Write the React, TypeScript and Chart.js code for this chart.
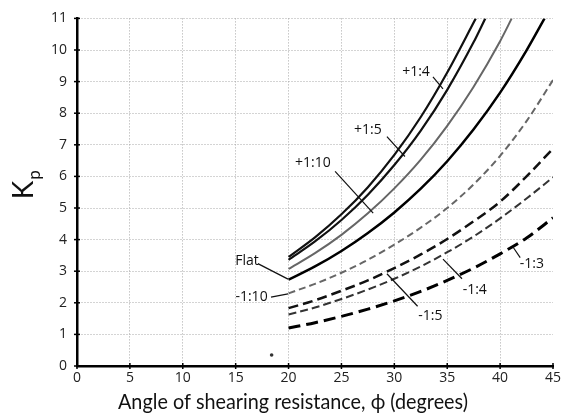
import React, { useEffect, useRef } from "react";
import { Chart, registerables } from "chart.js";

Chart.register(...registerables);

// ---- data ----
const PHI_FULL = [20, 22.5, 25, 27.5, 30, 32.5, 35, 37.5, 40, 42.5, 45];

const UP14_PHI = [20, 22.5, 25, 27.5, 30, 32.5, 35, 37.7];
const UP14_K = [3.45, 4.07, 4.8, 5.66, 6.68, 7.88, 9.29, 11];

const UP15_PHI = [20, 22.5, 25, 27.5, 30, 32.5, 35, 37.5, 38.6];
const UP15_K = [3.36, 3.94, 4.62, 5.42, 6.36, 7.45, 8.74, 10.25, 11];

const UP110_PHI = [20, 22.5, 25, 27.5, 30, 32.5, 35, 37.5, 40, 41.1];
const UP110_K = [3.07, 3.57, 4.15, 4.83, 5.62, 6.53, 7.6, 8.84, 10.28, 11];

const FLAT_PHI = [20, 22.5, 25, 27.5, 30, 32.5, 35, 37.5, 40, 42.5, 44.2];
const FLAT_K = [2.73, 3.15, 3.64, 4.21, 4.86, 5.61, 6.48, 7.49, 8.65, 9.99, 11];

const DN110_K = [2.3, 2.6, 2.95, 3.36, 3.84, 4.38, 5.0, 5.75, 6.65, 7.75, 9.05];
const DN15_K = [1.83, 2.08, 2.38, 2.71, 3.1, 3.53, 4.02, 4.58, 5.2, 6.0, 6.88];
const DN14_K = [1.63, 1.85, 2.12, 2.42, 2.76, 3.15, 3.6, 4.1, 4.67, 5.3, 5.97];
const DN13_K = [1.2, 1.37, 1.57, 1.8, 2.06, 2.36, 2.71, 3.1, 3.55, 4.05, 4.69];

const SPECK_PHI = [18.4];
const SPECK_K = [0.35];

const X_TICKS = [0, 5, 10, 15, 20, 25, 30, 35, 40, 45];
const Y_TICKS = [0, 1, 2, 3, 4, 5, 6, 7, 8, 9, 10, 11];

const X_TITLE = "Angle of shearing resistance, \u03d5 (degrees)";
const Y_TITLE = "K";
const Y_TITLE_SUB = "p";

// curve labels: text anchor and leader line in data coordinates
const LABELS = [
  { text: "+1:4", at: [32.05, 9.3], from: [33.65, 9.15], to: [34.6, 8.77] },
  { text: "+1:5", at: [27.5, 7.48], from: [29.3, 7.26], to: [31.0, 6.63] },
  { text: "+1:10", at: [22.3, 6.41], from: [24.4, 6.16], to: [28.0, 4.84] },
  { text: "Flat", at: [16.07, 3.33], from: [17.1, 3.24], to: [19.95, 2.75] },
  { text: "-1:10", at: [16.5, 2.17], from: [18.34, 2.18], to: [19.95, 2.28] },
  { text: "-1:5", at: [33.4, 1.57], from: [32.2, 1.89], to: [29.3, 2.92] },
  { text: "-1:4", at: [37.6, 2.39], from: [36.4, 2.76], to: [34.6, 3.38] },
  { text: "-1:3", at: [43.0, 3.24], from: [41.9, 3.43], to: [41.25, 3.75] },
];

const FONT = "'Open Sans', 'DejaVu Sans', sans-serif";
const TITLE_FONT = "Lato, 'Open Sans', sans-serif";

function pts(xs: number[], ys: number[]) {
  return xs.map((x, i) => ({ x, y: ys[i] }));
}

const overlay = {
  id: "overlay",
  afterDatasetsDraw(chart: any) {
    const { ctx, chartArea, scales } = chart;
    const xs = scales.x;
    const ys = scales.y;
    ctx.save();
    // tick crosses on axes
    ctx.strokeStyle = "#000";
    ctx.lineWidth = 1.5;
    X_TICKS.forEach((v) => {
      const px = xs.getPixelForValue(v);
      ctx.beginPath();
      ctx.moveTo(px, chartArea.bottom - 3);
      ctx.lineTo(px, chartArea.bottom + 3);
      ctx.stroke();
    });
    Y_TICKS.forEach((v) => {
      const py = ys.getPixelForValue(v);
      ctx.beginPath();
      ctx.moveTo(chartArea.left - 3, py);
      ctx.lineTo(chartArea.left + 3, py);
      ctx.stroke();
    });
    // labels
    ctx.fillStyle = "#111";
    ctx.font = `14px ${FONT}`;
    ctx.textAlign = "center";
    ctx.textBaseline = "middle";
    LABELS.forEach((l) => {
      const tx = xs.getPixelForValue(l.at[0]);
      const ty = ys.getPixelForValue(l.at[1]);
      ctx.fillText(l.text, tx, ty);
      ctx.beginPath();
      ctx.lineWidth = 1.2;
      ctx.strokeStyle = "#111";
      ctx.moveTo(xs.getPixelForValue(l.from[0]), ys.getPixelForValue(l.from[1]));
      ctx.lineTo(xs.getPixelForValue(l.to[0]), ys.getPixelForValue(l.to[1]));
      ctx.stroke();
    });
    ctx.restore();

    // x title, fitted to the reference width
    ctx.save();
    ctx.font = `21px ${TITLE_FONT}`;
    ctx.fillStyle = "#111";
    ctx.textAlign = "center";
    ctx.textBaseline = "alphabetic";
    const w = ctx.measureText(X_TITLE).width;
    const sx = Math.min(1, 350 / w);
    ctx.translate(293, 409);
    ctx.scale(sx, 1);
    ctx.fillText(X_TITLE, 0, 0);
    ctx.restore();

    // y title (rotated)
    ctx.save();
    ctx.fillStyle = "#111";
    ctx.translate(33, 190);
    ctx.rotate(-Math.PI / 2);
    ctx.font = `28px ${TITLE_FONT}`;
    ctx.textAlign = "center";
    ctx.textBaseline = "alphabetic";
    ctx.fillText(Y_TITLE, 0, 0);
    const kw = ctx.measureText(Y_TITLE).width;
    ctx.font = `17px ${TITLE_FONT}`;
    ctx.textAlign = "left";
    ctx.fillText(Y_TITLE_SUB, kw / 2 + 1, 7);
    ctx.restore();
  },
};

export default function App() {
  const ref = useRef<HTMLCanvasElement | null>(null);
  useEffect(() => {
    document.body.style.margin = "0";
    const canvas = ref.current;
    if (!canvas) return;
    const solid = (data: any, color: string, width: number) => ({
      data,
      borderColor: color,
      borderWidth: width,
      pointRadius: 0,
      fill: false,
      cubicInterpolationMode: "monotone" as const,
    });
    const dashed = (data: any, color: string, width: number, dash: number[]) => ({
      ...solid(data, color, width),
      borderDash: dash,
    });
    const chart = new Chart(canvas, {
      type: "line",
      data: {
        datasets: [
          solid(pts(UP14_PHI, UP14_K), "#111", 2.2),
          solid(pts(UP15_PHI, UP15_K), "#111", 2.2),
          solid(pts(UP110_PHI, UP110_K), "#666", 2),
          solid(pts(FLAT_PHI, FLAT_K), "#000", 2.5),
          dashed(pts(PHI_FULL, DN110_K), "#666", 2, [7, 4]),
          dashed(pts(PHI_FULL, DN15_K), "#111", 2.5, [10, 5]),
          dashed(pts(PHI_FULL, DN14_K), "#333", 2, [8, 4]),
          dashed(pts(PHI_FULL, DN13_K), "#000", 3, [12, 6]),
          {
            type: "scatter" as any,
            data: pts(SPECK_PHI, SPECK_K),
            pointRadius: 1.8,
            pointBackgroundColor: "#333",
            pointBorderWidth: 0,
            showLine: false,
          } as any,
        ],
      },
      options: {
        animation: false,
        responsive: false,
        layout: { padding: { top: 16, right: 15, left: 0, bottom: 0 } },
        plugins: { legend: { display: false }, tooltip: { enabled: false } },
        scales: {
          x: {
            type: "linear",
            min: 0,
            max: 45,
            afterFit: (s: any) => {
              s.height = 48;
            },
            afterBuildTicks: (s: any) => {
              s.ticks = X_TICKS.map((v) => ({ value: v }));
            },
            ticks: {
              padding: 4,
              color: "#222",
              font: { family: FONT, size: 14 },
            },
            grid: {
              drawTicks: false,
              color: (c: any) =>
                c.tick && (c.tick.value === 0 || c.tick.value === 45) ? "rgba(0,0,0,0)" : "#a8a8a8",
              lineWidth: 1,
            },
            border: { display: true, color: "#000", width: 2.5, dash: [1, 2] },
          },
          y: {
            type: "linear",
            min: 0,
            max: 11,
            afterFit: (s: any) => {
              s.width = 77;
            },
            afterBuildTicks: (s: any) => {
              s.ticks = Y_TICKS.map((v) => ({ value: v }));
            },
            ticks: {
              padding: 10,
              color: "#222",
              font: { family: FONT, size: 14 },
            },
            grid: {
              drawTicks: false,
              color: (c: any) => (c.tick && c.tick.value === 0 ? "rgba(0,0,0,0)" : "#a8a8a8"),
              lineWidth: 1,
            },
            border: { display: true, color: "#000", width: 2.5, dash: [1, 2] },
          },
        },
      },
      plugins: [overlay],
    });
    return () => chart.destroy();
  }, []);
  return (
    <div style={{ width: 568, height: 414 }}>
      <canvas ref={ref} width={568} height={414} style={{ display: "block" }} />
    </div>
  );
}
